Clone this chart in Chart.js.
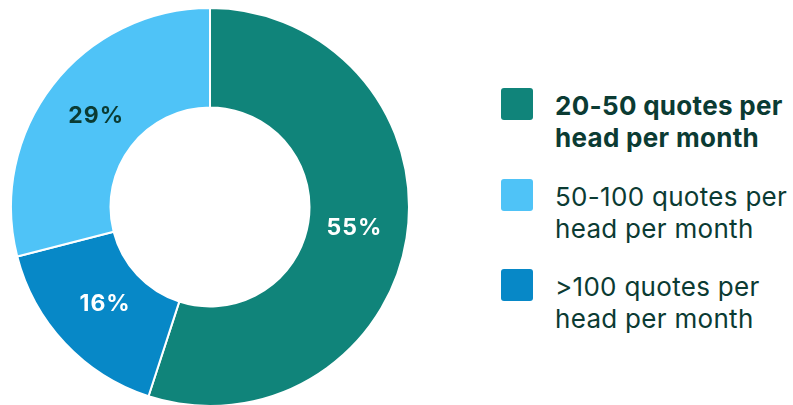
<!DOCTYPE html>
<html>
<head>
<meta charset="utf-8">
<script src="https://cdn.jsdelivr.net/npm/chart.js@4.4.0/dist/chart.umd.min.js"></script>
<style>
  html, body { margin: 0; padding: 0; background: #fff; }
  body { width: 793px; height: 405px; overflow: hidden; position: relative; font-family: Inter, "Noto Sans", sans-serif; }
  #wrap { position: absolute; left: 10px; top: 7px; width: 400px; height: 400px; }
  #legend { position: absolute; left: 501px; top: 88px; color: #0b3b33; }
  .item { display: flex; align-items: flex-start; height: 90.5px; }
  .box { width: 32px; height: 32px; border-radius: 3px; flex: none; margin-right: 22px; }
  .txt { font-size: 26px; line-height: 32px; margin-top: 2px; white-space: nowrap; letter-spacing: 0.3px; }
  .txt.bold { font-weight: 700; }
</style>
</head>
<body>
<div id="wrap"><canvas id="chart"></canvas></div>
<div id="legend"></div>
<script>
// slices in drawing order (clockwise from 12 o'clock)
var categories = ['20-50 quotes per head per month', '>100 quotes per head per month', '50-100 quotes per head per month'];
var shares = [55, 16, 29];
var legendOrder = [0, 2, 1];
var legendLines = {
  0: ['20-50 quotes per', 'head per month'],
  1: ['>100 quotes per', 'head per month'],
  2: ['50-100 quotes per', 'head per month']
};

var sliceColors = ['#10847a', '#0788c7', '#4fc3f7'];
var labelColors = ['#ffffff', '#ffffff', '#0b3b33'];

// percentage text inside each slice
var sliceLabels = {
  id: 'sliceLabels',
  afterDatasetsDraw: function (chart) {
    var ctx = chart.ctx;
    var meta = chart.getDatasetMeta(0);
    ctx.save();
    ctx.font = '700 23px Inter, "Noto Sans", sans-serif';
    if ('letterSpacing' in ctx) ctx.letterSpacing = '1px';
    ctx.textAlign = 'center';
    ctx.textBaseline = 'middle';
    meta.data.forEach(function (arc, i) {
      var mid = (arc.startAngle + arc.endAngle) / 2;
      var r = (arc.innerRadius + arc.outerRadius) / 2 - 4;
      ctx.fillStyle = labelColors[i];
      ctx.fillText(shares[i] + '%', arc.x + Math.cos(mid) * r + 1, arc.y + Math.sin(mid) * r - 2);
    });
    ctx.restore();
  }
};

var chart = new Chart(document.getElementById('chart').getContext('2d'), {
  type: 'doughnut',
  data: {
    labels: categories,
    datasets: [{
      data: shares,
      backgroundColor: sliceColors,
      borderColor: '#ffffff',
      borderWidth: 2
    }]
  },
  options: {
    responsive: true,
    maintainAspectRatio: false,
    animation: false,
    cutout: '50%',
    plugins: {
      legend: { display: false },
      tooltip: { enabled: false }
    }
  },
  plugins: [sliceLabels]
});

// html legend, built from the chart data
var legend = document.getElementById('legend');
legendOrder.forEach(function (idx, n) {
  var item = document.createElement('div');
  item.className = 'item';
  var box = document.createElement('div');
  box.className = 'box';
  box.style.background = chart.data.datasets[0].backgroundColor[idx];
  var txt = document.createElement('div');
  txt.className = 'txt' + (n === 0 ? ' bold' : '');
  txt.innerHTML = legendLines[idx].join('<br>');
  item.appendChild(box);
  item.appendChild(txt);
  legend.appendChild(item);
});
</script>
</body>
</html>
